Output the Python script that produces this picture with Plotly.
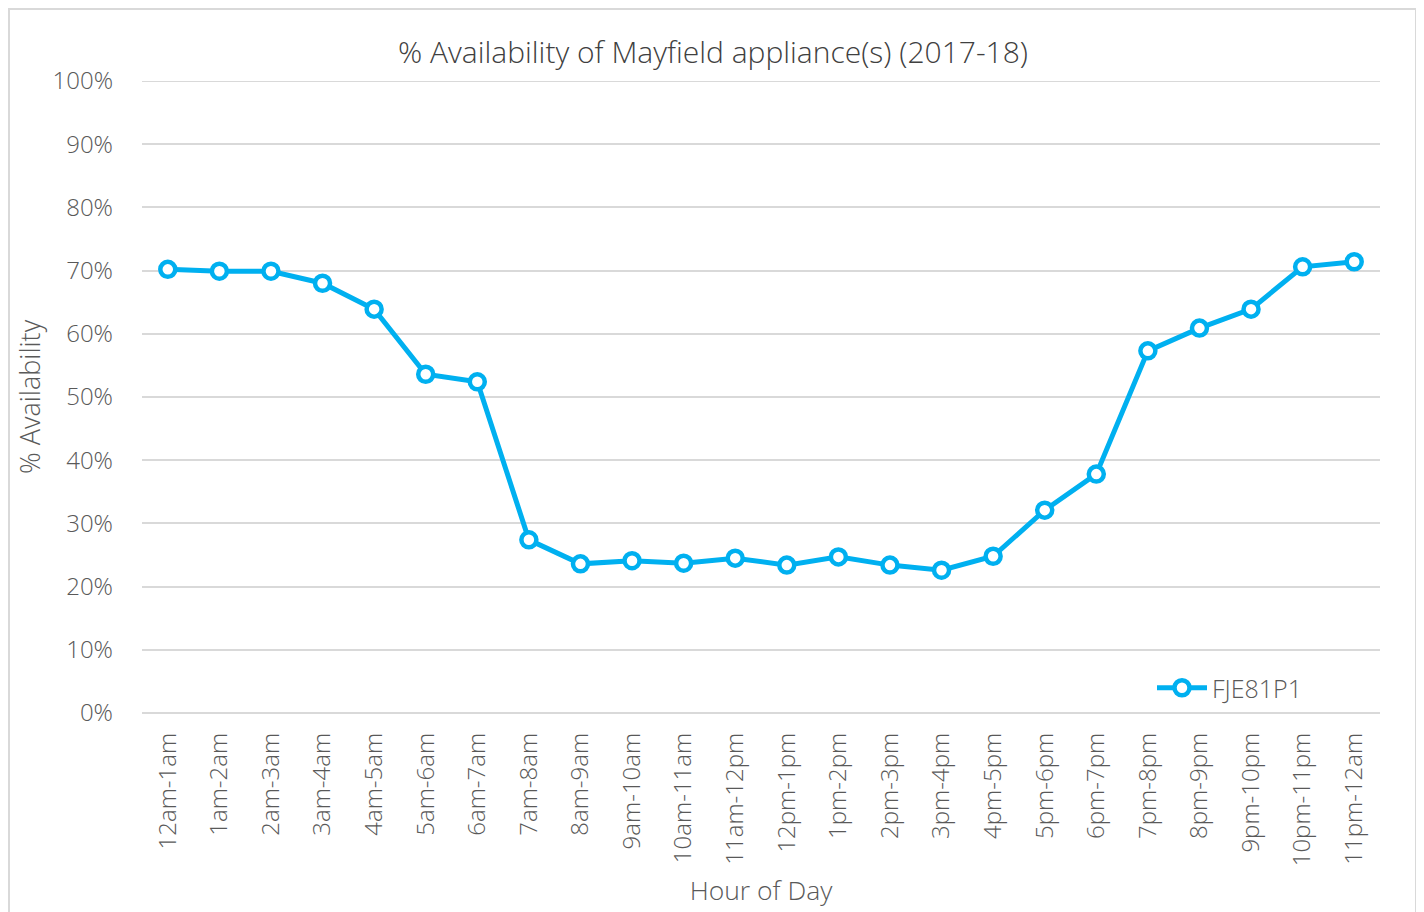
import plotly.graph_objects as go

hours = ["12am-1am", "1am-2am", "2am-3am", "3am-4am", "4am-5am", "5am-6am", "6am-7am",
         "7am-8am", "8am-9am", "9am-10am", "10am-11am", "11am-12pm", "12pm-1pm", "1pm-2pm",
         "2pm-3pm", "3pm-4pm", "4pm-5pm", "5pm-6pm", "6pm-7pm", "7pm-8pm", "8pm-9pm",
         "9pm-10pm", "10pm-11pm", "11pm-12am"]
availability = [70.2, 69.9, 69.9, 68.0, 63.9, 53.6, 52.4, 27.4, 23.6, 24.1, 23.7, 24.5,
                23.4, 24.7, 23.4, 22.6, 24.8, 32.1, 37.8, 57.3, 60.9, 63.9, 70.6, 71.4]
y_ticks = [0, 10, 20, 30, 40, 50, 60, 70, 80, 90, 100]

OFF = 8  # page body margin
W, H = 1424 - OFF, 912 - OFF
L, T = 142 - OFF, 81 - OFF
R = W - (1380 - OFF)
B = H - (713 - OFF)
pw, ph = W - L - R, H - T - B

def px_x(x):  # page pixel -> paper
    return (x - OFF - L) / pw

def px_y(y):
    return (H - B - (y - OFF)) / ph

COL = "#00B0F0"
fig = go.Figure()
fig.add_trace(go.Scatter(
    x=hours, y=availability, mode="lines+markers", name="FJE81P1",
    line=dict(color=COL, width=5),
    marker=dict(symbol="circle", size=15, color="white", line=dict(color=COL, width=4.5)),
))

font = "Open Sans, Segoe UI, sans-serif"
GR = "#595959"
fig.update_layout(
    width=W, height=H,
    margin=dict(l=L, r=R, t=T, b=B, autoexpand=False),
    paper_bgcolor="white", plot_bgcolor="white",
    font=dict(family=font, color=GR, weight=300),
    title=dict(text="% Availability of Mayfield appliance(s) (2017-18)",
               x=px_x(713), xanchor="center", xref="paper",
               y=1 - (52 - OFF) / H, yanchor="middle",
               font=dict(size=30, color="#404040", weight=300)),
    xaxis=dict(
        title=dict(text="Hour of Day", font=dict(size=26.5, color=GR, weight=300), standoff=16),
        range=[-0.5, len(hours) - 0.5], automargin=False,
        tickangle=-90, tickfont=dict(size=24, color=GR, weight=300),
        showgrid=False, showline=False, ticks="", ticklabelstandoff=14,
    ),
    yaxis=dict(
        title=dict(text="% Availability", font=dict(size=27, color=GR, weight=300), standoff=4),
        range=[0, 100], tickvals=y_ticks, ticktext=[f"{v}%" for v in y_ticks],
        tickfont=dict(size=24, color=GR, weight=300), automargin=False,
        showgrid=True, gridcolor="#D9D9D9", gridwidth=2,
        zeroline=True, zerolinecolor="#D9D9D9", zerolinewidth=2,
        ticks="", ticklabelstandoff=28,
    ),
    showlegend=True,
    legend=dict(x=px_x(1152), y=px_y(688), xanchor="left", yanchor="middle",
                bgcolor="rgba(0,0,0,0)", font=dict(size=25, color=GR, weight=300),
                itemwidth=50),
    shapes=[
        dict(type="line", xref="paper", yref="y", x0=0, x1=1, y0=100, y1=100,
             line=dict(color="#D9D9D9", width=2), layer="below"),
        dict(type="rect", xref="paper", yref="paper",
             x0=px_x(9), x1=px_x(1416), y0=px_y(930), y1=px_y(9),
             line=dict(color="#D9D9D9", width=2), fillcolor="rgba(0,0,0,0)", layer="below"),
    ],
)

fig.write_html("out.html")
